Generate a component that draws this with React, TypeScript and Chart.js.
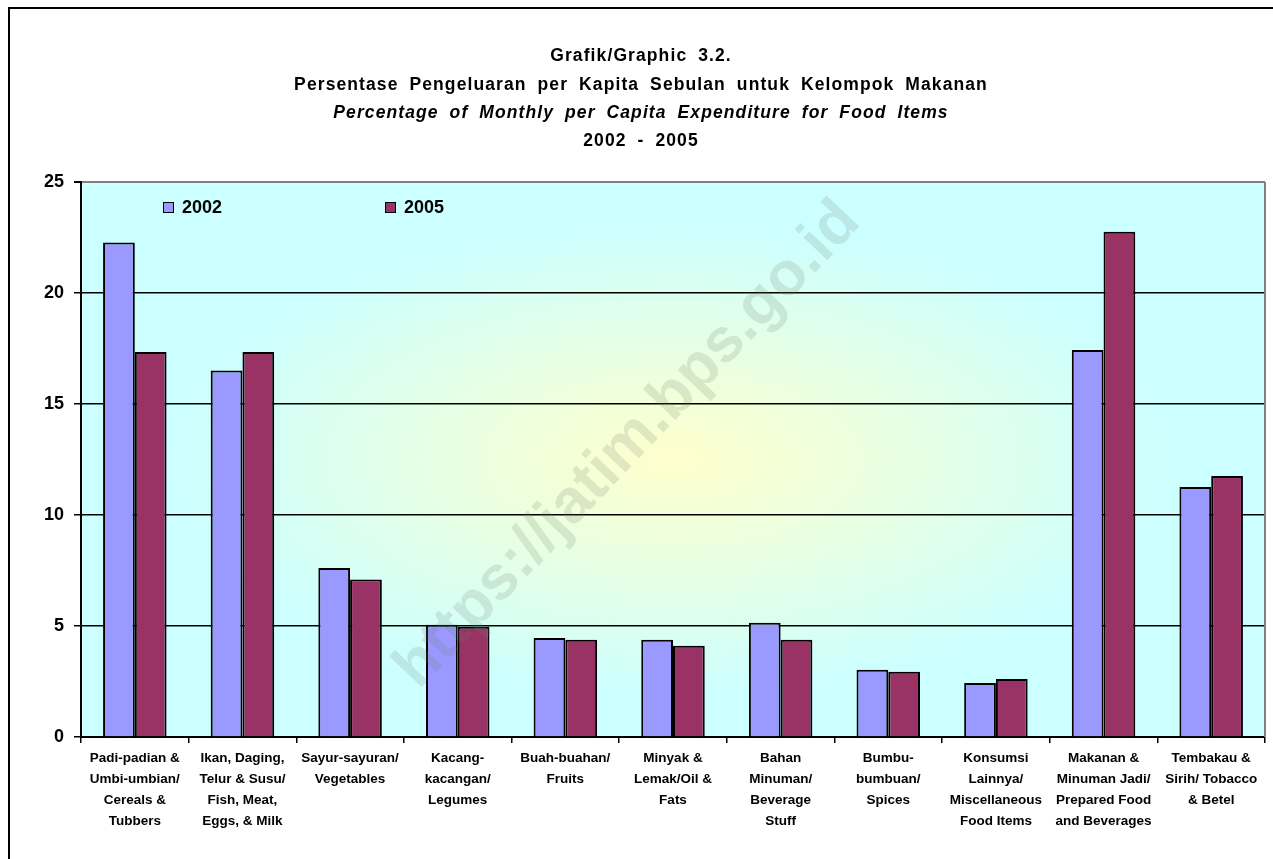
import React, { useEffect, useRef } from "react";
import { Chart, registerables } from "chart.js";

Chart.register(...registerables);

const categories: string[][] = [
  ["Padi-padian &", "Umbi-umbian/", "Cereals &", "Tubbers"],
  ["Ikan, Daging,", "Telur & Susu/", "Fish, Meat,", "Eggs, & Milk"],
  ["Sayur-sayuran/", "Vegetables"],
  ["Kacang-", "kacangan/", "Legumes"],
  ["Buah-buahan/", "Fruits"],
  ["Minyak &", "Lemak/Oil &", "Fats"],
  ["Bahan", "Minuman/", "Beverage", "Stuff"],
  ["Bumbu-", "bumbuan/", "Spices"],
  ["Konsumsi", "Lainnya/", "Miscellaneous", "Food Items"],
  ["Makanan &", "Minuman Jadi/", "Prepared Food", "and Beverages"],
  ["Tembakau &", "Sirih/ Tobacco", "& Betel"],
];

const seriesLabels = ["2002", "2005"];
const values2002 = [22.27, 16.51, 7.61, 5.06, 4.46, 4.38, 5.15, 3.03, 2.43, 17.43, 11.26];
const values2005 = [17.34, 17.34, 7.09, 4.97, 4.38, 4.11, 4.38, 2.94, 2.61, 22.76, 11.76];

const titleLines = [
  "Grafik/Graphic 3.2.",
  "Persentase Pengeluaran per Kapita Sebulan untuk Kelompok Makanan",
  "Percentage of Monthly per Capita Expenditure for Food Items",
  "2002 - 2005",
];
const watermark = "https://jatim.bps.go.id";

const FONT = "'Liberation Sans', Arial, sans-serif";
const COLORS = ["#9999FF", "#993366"];

export default function App() {
  const ref = useRef<HTMLCanvasElement | null>(null);

  useEffect(() => {
    const canvas = ref.current;
    if (!canvas) return;

    const decor = {
      id: "decor",
      beforeDraw(chart: any) {
        const ctx = chart.ctx as CanvasRenderingContext2D;
        const a = chart.chartArea;
        ctx.save();
        ctx.fillStyle = "#ffffff";
        ctx.fillRect(0, 0, chart.width, chart.height);
        // outer frame
        ctx.strokeStyle = "#000";
        ctx.lineWidth = 2;
        ctx.beginPath();
        ctx.moveTo(9, chart.height + 5);
        ctx.lineTo(9, 8);
        ctx.lineTo(chart.width + 5, 8);
        ctx.stroke();
        // plot background gradient
        const cx = (a.left + a.right) / 2;
        const cy = (a.top + a.bottom) / 2;
        const rx = (a.right - a.left) / 2;
        const ry = (a.bottom - a.top) / 2;
        ctx.save();
        ctx.beginPath();
        ctx.rect(a.left, a.top, a.right - a.left, a.bottom - a.top);
        ctx.clip();
        ctx.translate(cx, cy);
        ctx.scale(1, ry / rx);
        const g = ctx.createRadialGradient(0, 0, 0, 0, 0, rx);
        g.addColorStop(0, "#FFFFCC");
        g.addColorStop(0.85, "#CCFFFF");
        g.addColorStop(1, "#CCFFFF");
        ctx.fillStyle = g;
        ctx.fillRect(-rx * 2, -rx * 2, rx * 4, rx * 4);
        ctx.restore();
        // title
        ctx.fillStyle = "#000";
        ctx.textAlign = "center";
        ctx.textBaseline = "middle";
        const ys = [56, 85, 113, 141];
        titleLines.forEach((t, i) => {
          ctx.font = (i === 2 ? "italic " : "") + "bold 17.5px " + FONT;
          (ctx as any).letterSpacing = "1.1px";
          (ctx as any).wordSpacing = "5px";
          ctx.fillText(t, 641, ys[i]);
        });
        (ctx as any).letterSpacing = "0px";
        (ctx as any).wordSpacing = "0px";
        ctx.restore();
      },
      afterDatasetsDraw(chart: any) {
        const ctx = chart.ctx as CanvasRenderingContext2D;
        const a = chart.chartArea;
        ctx.save();
        // right border of plot
        ctx.strokeStyle = "#808080";
        ctx.lineWidth = 2;
        ctx.beginPath();
        ctx.moveTo(a.right, a.top);
        ctx.lineTo(a.right, a.bottom);
        ctx.stroke();
        // legend
        ctx.font = "bold 18px " + FONT;
        ctx.textBaseline = "middle";
        ctx.textAlign = "left";
        const lx = [a.left + 82, a.left + 304];
        chart.data.datasets.forEach((ds: any, i: number) => {
          const x = lx[i];
          const y = a.top + 26;
          ctx.fillStyle = ds.backgroundColor;
          ctx.fillRect(x, y - 6, 11, 11);
          ctx.strokeStyle = "#000";
          ctx.lineWidth = 1;
          ctx.strokeRect(x + 0.5, y - 5.5, 10, 10);
          ctx.fillStyle = "#000";
          ctx.fillText(ds.label, x + 19, y);
        });
        // watermark
        ctx.translate(628, 445);
        ctx.rotate(-46.5 * Math.PI / 180);
        ctx.font = "bold 62px " + FONT;
        ctx.textAlign = "center";
        ctx.fillStyle = "rgba(110,120,110,0.18)";
        ctx.fillText(watermark, 0, 0);
        ctx.restore();
      },
    };

    const chart = new Chart(canvas, {
      type: "bar",
      data: {
        labels: categories,
        datasets: [
          { label: seriesLabels[0], data: values2002, backgroundColor: COLORS[0], borderColor: "#000", borderWidth: 2 },
          { label: seriesLabels[1], data: values2005, backgroundColor: COLORS[1], borderColor: "#000", borderWidth: 2 },
        ],
      },
      options: {
        responsive: false,
        animation: false,
        devicePixelRatio: 1,
        layout: { padding: { top: 182, left: 0, right: 8, bottom: 0 } },
        datasets: { bar: { categoryPercentage: 0.59, barPercentage: 1 } },
        plugins: { legend: { display: false }, title: { display: false }, tooltip: { enabled: false } },
        scales: {
          x: {
            offset: true,
            grid: { display: true, drawOnChartArea: false, drawTicks: true, tickLength: 6, color: "#000", lineWidth: 1.5, offset: true },
            border: { color: "#000", width: 2 },
            ticks: {
              autoSkip: false,
              maxRotation: 0,
              minRotation: 0,
              color: "#000",
              padding: 5,
              font: { family: FONT, size: 13.5, weight: "bold", lineHeight: 1.56 },
            },
            afterFit: (s: any) => { s.height = 122; },
          },
          y: {
            min: 0,
            max: 25,
            ticks: { stepSize: 5, color: "#000", padding: 10, font: { family: FONT, size: 18, weight: "bold" } },
            grid: {
              color: (c: any) => (c.tick && c.tick.value === 25 ? "#808080" : "#000"),
              lineWidth: (c: any) => (c.tick && c.tick.value === 25 ? 2 : 1.5),
              tickLength: 7,
              tickColor: "#000",
            },
            border: { color: "#000", width: 2 },
            afterFit: (s: any) => { s.width = 81; },
          },
        },
      } as any,
      plugins: [decor],
    });
    return () => chart.destroy();
  }, []);

  return (
    <div style={{ position: "fixed", left: 0, top: 0, width: 1273, height: 859, background: "#fff" }}>
      <canvas ref={ref} width={1273} height={859} style={{ display: "block" }} />
    </div>
  );
}
